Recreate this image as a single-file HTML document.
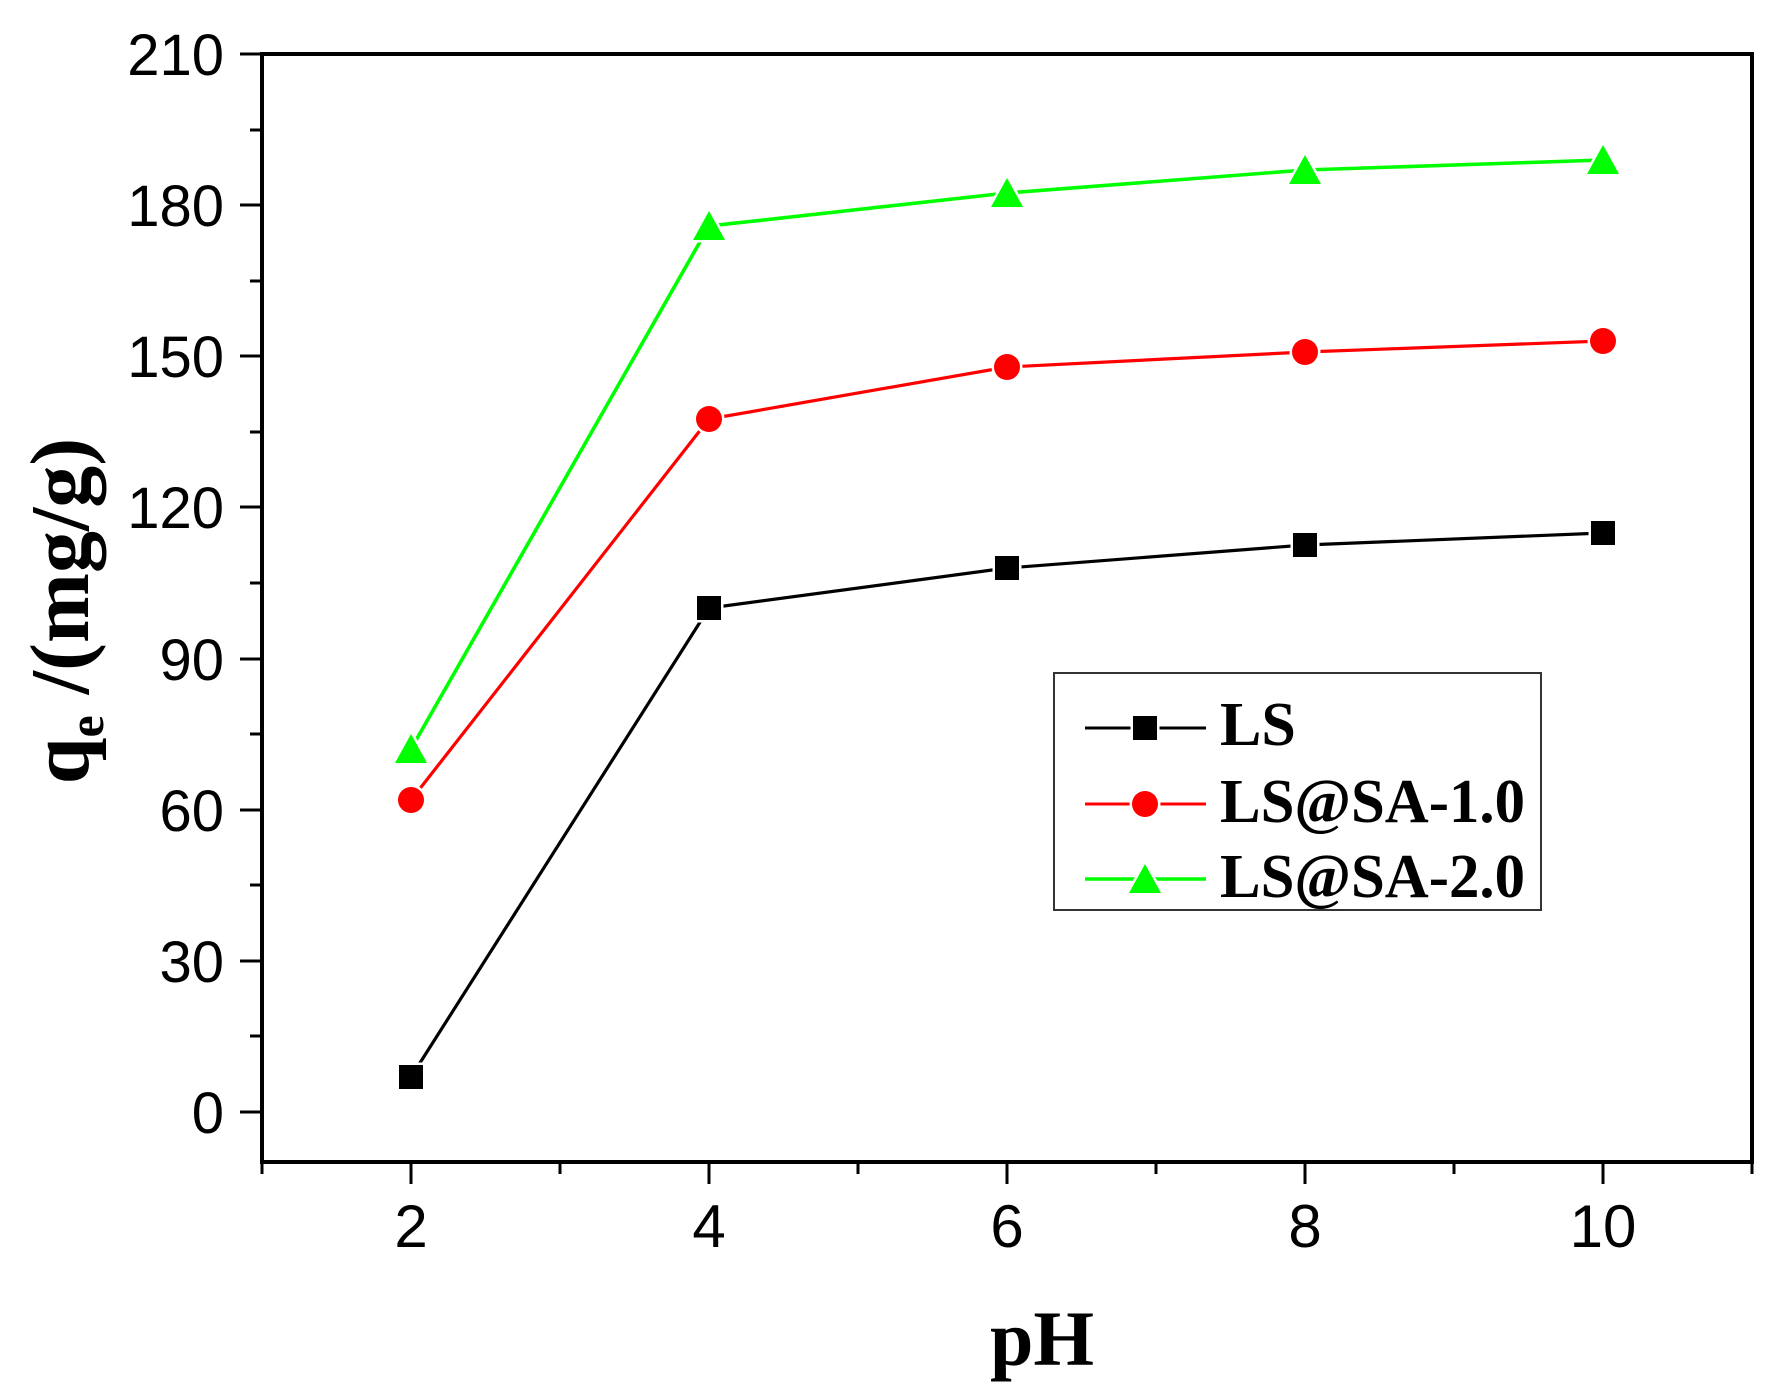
<!DOCTYPE html>
<html><head><meta charset="utf-8"><style>html,body{margin:0;padding:0;background:#fff;}svg{display:block;}</style></head>
<body>
<svg width="1790" height="1400" viewBox="0 0 1790 1400" xmlns="http://www.w3.org/2000/svg">
<rect width="1790" height="1400" fill="#fff"/>
<rect x="262" y="54" width="1490" height="1108" fill="none" stroke="#000" stroke-width="4"/>
<g stroke="#000" stroke-width="3">
<line x1="240" y1="54" x2="262" y2="54"/><line x1="240" y1="205" x2="262" y2="205"/>
<line x1="240" y1="356" x2="262" y2="356"/><line x1="240" y1="507" x2="262" y2="507"/>
<line x1="240" y1="659" x2="262" y2="659"/><line x1="240" y1="810" x2="262" y2="810"/>
<line x1="240" y1="961" x2="262" y2="961"/><line x1="240" y1="1112" x2="262" y2="1112"/>
<line x1="250" y1="130" x2="262" y2="130"/><line x1="250" y1="281" x2="262" y2="281"/>
<line x1="250" y1="432" x2="262" y2="432"/><line x1="250" y1="583" x2="262" y2="583"/>
<line x1="250" y1="734" x2="262" y2="734"/><line x1="250" y1="885" x2="262" y2="885"/>
<line x1="250" y1="1036" x2="262" y2="1036"/>
<line x1="411" y1="1162" x2="411" y2="1184"/><line x1="709" y1="1162" x2="709" y2="1184"/>
<line x1="1007" y1="1162" x2="1007" y2="1184"/><line x1="1305" y1="1162" x2="1305" y2="1184"/>
<line x1="1603" y1="1162" x2="1603" y2="1184"/>
<line x1="262" y1="1162" x2="262" y2="1174"/><line x1="560" y1="1162" x2="560" y2="1174"/>
<line x1="858" y1="1162" x2="858" y2="1174"/><line x1="1156" y1="1162" x2="1156" y2="1174"/>
<line x1="1454" y1="1162" x2="1454" y2="1174"/><line x1="1752" y1="1162" x2="1752" y2="1174"/>
</g>
<g font-family="Liberation Sans, sans-serif" font-size="58" fill="#000" text-anchor="end">
<text x="224" y="75">210</text><text x="224" y="226">180</text><text x="224" y="377">150</text>
<text x="224" y="528">120</text><text x="224" y="680">90</text><text x="224" y="831">60</text>
<text x="224" y="982">30</text><text x="224" y="1133">0</text>
</g>
<g font-family="Liberation Sans, sans-serif" font-size="60" fill="#000" text-anchor="middle">
<text x="411" y="1247">2</text><text x="709" y="1247">4</text><text x="1007" y="1247">6</text>
<text x="1305" y="1247">8</text><text x="1603" y="1247">10</text>
</g>
<text x="1042" y="1365" font-family="Liberation Serif, serif" font-weight="bold" font-size="78" text-anchor="middle">pH</text>
<text transform="translate(88,611) rotate(-90)" font-family="Liberation Serif, serif" font-weight="bold" font-size="84" text-anchor="middle">q<tspan font-size="50" dy="15">e</tspan><tspan dy="-15"> /(mg/g)</tspan></text>
<polyline points="411,1077 709,608 1007,568 1305,545 1603,533" fill="none" stroke="#000" stroke-width="3.2"/>
<polyline points="411,800 709,419 1007,367 1305,352 1603,341" fill="none" stroke="#f00" stroke-width="3.2"/>
<polyline points="411,749 709,226 1007,193 1305,170 1603,160" fill="none" stroke="#0f0" stroke-width="3.6"/>
<g fill="#000" stroke="#fff" stroke-width="5" paint-order="stroke">
<rect x="399" y="1065" width="24" height="24"/><rect x="697" y="596" width="24" height="24"/>
<rect x="995" y="556" width="24" height="24"/><rect x="1293" y="533" width="24" height="24"/>
<rect x="1591" y="521" width="24" height="24"/>
</g>
<g fill="#f00" stroke="#fff" stroke-width="5" paint-order="stroke">
<circle cx="411" cy="800" r="13"/><circle cx="709" cy="419" r="13"/><circle cx="1007" cy="367" r="13"/>
<circle cx="1305" cy="352" r="13"/><circle cx="1603" cy="341" r="13"/>
</g>
<g fill="#0f0" stroke="#fff" stroke-width="5" paint-order="stroke">
<polygon points="411,734 427,763 395,763"/><polygon points="709,211 725,240 693,240"/>
<polygon points="1007,178 1023,207 991,207"/><polygon points="1305,155 1321,184 1289,184"/>
<polygon points="1603,145 1619,174 1587,174"/>
</g>
<rect x="1054" y="673" width="487" height="237" fill="#fff" stroke="#333" stroke-width="2"/>
<line x1="1085" y1="728" x2="1206" y2="728" stroke="#000" stroke-width="3"/>
<rect x="1133" y="716" width="24" height="24" fill="#000" stroke="#fff" stroke-width="5" paint-order="stroke"/>
<line x1="1085" y1="804" x2="1206" y2="804" stroke="#f00" stroke-width="3"/>
<circle cx="1145" cy="804" r="13" fill="#f00" stroke="#fff" stroke-width="5" paint-order="stroke"/>
<line x1="1085" y1="879" x2="1206" y2="879" stroke="#0f0" stroke-width="3.5"/>
<polygon points="1145,864 1161,893 1129,893" fill="#0f0" stroke="#fff" stroke-width="5" paint-order="stroke"/>
<g font-family="Liberation Serif, serif" font-weight="bold" font-size="62" fill="#000">
<text x="1220" y="745">LS</text>
<text x="1220" y="822" textLength="305" lengthAdjust="spacingAndGlyphs">LS@SA-1.0</text>
<text x="1220" y="897" textLength="305" lengthAdjust="spacingAndGlyphs">LS@SA-2.0</text>
</g>
</svg>
</body></html>
